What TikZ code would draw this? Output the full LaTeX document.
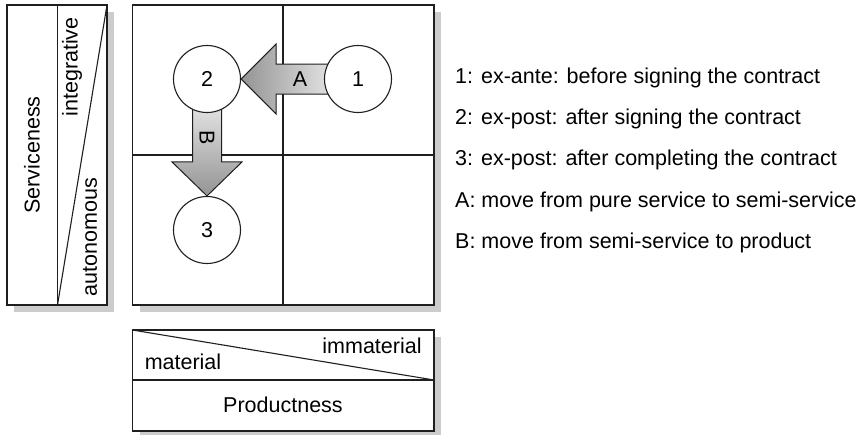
\documentclass[tikz,border=0pt]{standalone}
\usepackage{fontspec}
\setmainfont{Liberation Sans}
\usetikzlibrary{calc}
\pgfdeclarelayer{boxes}
\pgfdeclarelayer{moves}
\pgfsetlayers{boxes,moves,main}
\begin{document}
\begin{tikzpicture}[x=1pt, y=-1pt,
  frame/.style={draw=black!88, line width=1.1pt},
  shadowbox/.style={fill=black!20, draw=none},
  stage/.style={circle, draw=black!88, line width=1.1pt, fill=white,
    minimum size=67pt, inner sep=0pt, font=\fontsize{21.5}{25}\selectfont},
  lbl/.style={inner sep=0pt, font=\fontsize{21.5}{25}\selectfont},
  legend/.style={lbl, anchor=base west},
  movearrow/.style={draw=black!88, line width=1pt, line join=miter},
]
\useasboundingbox (0,0) rectangle (859,434);

\begin{pgfonlayer}{boxes}
  % drop shadows
  \fill[shadowbox] (14,12) rectangle (114,312);
  \fill[shadowbox] (139.5,12) rectangle (441,312);
  \fill[shadowbox] (139.5,337) rectangle (441,438);
  % serviceness scale
  \draw[frame, fill=white] (7,5) rectangle (107,305);
  \draw[frame] (57.5,5) -- (57.5,305);
  \draw[frame] (57.5,305) -- (107,5);
  % quadrant grid
  \draw[frame, fill=white] (132.5,5) rectangle (434,305);
  \draw[frame] (283,5) -- (283,305);
  \draw[frame] (132.5,155) -- (434,155);
  % productness scale
  \draw[frame, fill=white] (132.5,330) rectangle (434,431);
  \draw[frame] (132.5,380) -- (434,380);
  \draw[frame] (132.5,330) -- (434,380);
\end{pgfonlayer}

% stages
\node[stage] (c1) at (358,79) {1};
\node[stage] (c2) at (207,79) {2};
\node[stage] (c3) at (207,230) {3};

% moves between stages
\begin{pgfonlayer}{moves}
  \shadedraw[movearrow, left color=black!42, right color=black!2]
    (c2.east) -- ($(c2.east)+(35,-35)$) -- ($(c2.east)+(35,-15)$)
    -- ($(c1.center)+(0,-15)$) -- ($(c1.center)+(0,15)$)
    -- ($(c2.east)+(35,15)$) -- ($(c2.east)+(35,35)$) -- cycle;
  \shadedraw[movearrow, top color=black!2, bottom color=black!42]
    (c3.north) -- ($(c3.north)+(35,-34)$) -- ($(c3.north)+(14.5,-34)$)
    -- ($(c2.center)+(14.5,0)$) -- ($(c2.center)+(-14.5,0)$)
    -- ($(c3.north)+(-14.5,-34)$) -- ($(c3.north)+(-35,-34)$) -- cycle;
\end{pgfonlayer}
\node[lbl] (mA) at (300,79) {A};
\node[lbl, rotate=-90] (mB) at (207,138) {B};

% axis labels
\node[lbl, rotate=90] (svc) at (32,155) {Serviceness};
\node[lbl, rotate=90] (intg) at (72,67) {integrative};
\node[lbl, rotate=90] (auto) at (90,237) {autonomous};
\node[lbl] (mat) at (183,362) {material};
\node[lbl] (immat) at (372,346) {immaterial};
\node[lbl] (prod) at (283,405) {Productness};

% legend
\node[legend] (l1) at (455,83) {1: ex-ante: before signing the contract};
\node[legend] (l2) at (455,124) {2: ex-post: after signing the contract};
\node[legend] (l3) at (455,165) {3: ex-post: after completing the contract};
\node[legend] (l4) at (455,207) {A: move from pure service to semi-service};
\node[legend] (l5) at (455,248) {B: move from semi-service to product};
\end{tikzpicture}
\end{document}
